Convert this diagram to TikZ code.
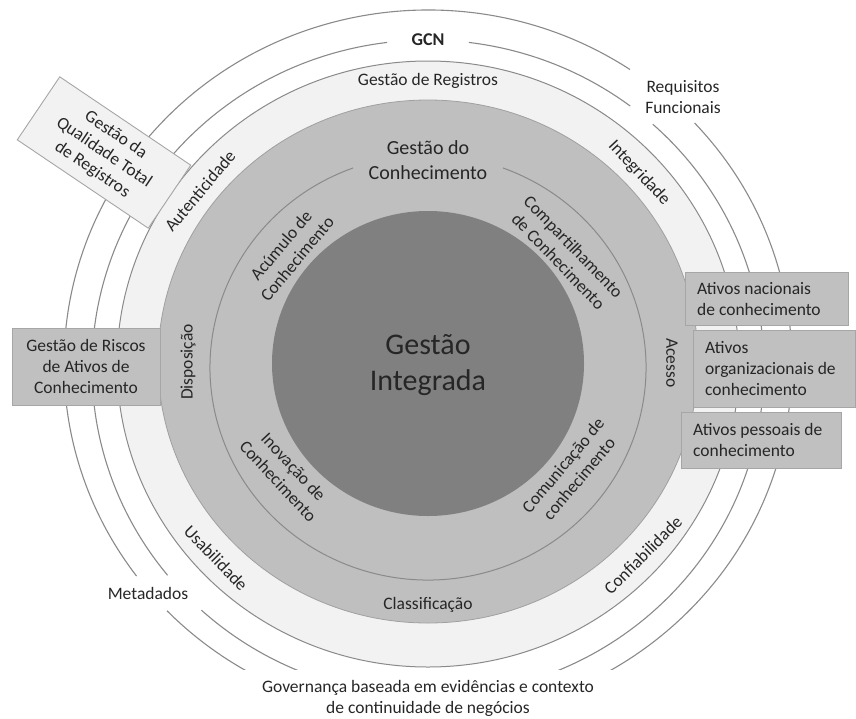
\documentclass[tikz,border=0pt]{standalone}
\usepackage{fontspec}
\setmainfont{Carlito}
\definecolor{lightfill}{HTML}{F2F2F2}
\definecolor{midfill}{HTML}{BFBFBF}
\definecolor{darkfill}{HTML}{808080}
\definecolor{linegray}{HTML}{8A8A8A}
\definecolor{midedge}{HTML}{A0A0A0}
\definecolor{boxfill}{HTML}{C0C0C0}
\definecolor{boxedge}{HTML}{A6A6A6}
\definecolor{txt}{HTML}{262626}
\begin{document}
\begin{tikzpicture}[x=1pt,y=1pt,
  ringline/.style={draw=linegray, line width=1.1pt},
  lbl/.style={inner sep=0pt, align=center, text=txt, font=\fontsize{17.5}{21}\selectfont},
  boxlbl/.style={inner sep=0pt, align=left, anchor=west, text=txt, font=\fontsize{17.5}{21}\selectfont},
  infobox/.style={draw=boxedge, line width=0.9pt},
]
\useasboundingbox (0,0) rectangle (856,-718);

% centres of the rings
\coordinate (cOuter) at (428,-364);
\coordinate (cGCN)   at (428,-368);
\coordinate (cReg)   at (428,-364);
\coordinate (cKM)    at (428,-361.5);
\coordinate (cThin)  at (428,-367.5);
\coordinate (cCore)  at (428,-363.5);

% outer open rings, cut off above the bottom caption
\begin{scope}
  \clip (0,0) rectangle (856,-669);
  \draw[ringline] (cOuter) ++(56.3:364 and 354) arc[start angle=56.3, end angle=216.8, x radius=364, y radius=354];
  \draw[ringline] (cOuter) ++(224.2:364 and 354) arc[start angle=224.2, end angle=402.9, x radius=364, y radius=354];
  \draw[ringline] (cGCN) ++(97:336 and 328) arc[start angle=97, end angle=219.2, x radius=336, y radius=328];
  \draw[ringline] (cGCN) ++(227.6:336 and 328) arc[start angle=227.6, end angle=408, x radius=336, y radius=328];
  \draw[ringline] (cGCN) ++(53:336 and 328) arc[start angle=53, end angle=83, x radius=336, y radius=328];
\end{scope}

% records management ring
\filldraw[fill=lightfill, draw=linegray, line width=1pt] (cReg) ellipse [x radius=311, y radius=303];
% knowledge management ring
\filldraw[fill=midfill, draw=midedge, line width=0.8pt] (cKM) ellipse [x radius=270, y radius=261.5];
% thin inner ring, open at the top
\draw[draw=linegray, line width=1pt] (cThin) ++(110.1:218 and 212.5) arc[start angle=110.1, end angle=429.9, x radius=218, y radius=212.5];
% core
\fill[darkfill] (cCore) ellipse [x radius=156, y radius=152.5];

% titles
\node[lbl, font=\fontsize{18}{21}\selectfont\bfseries] (gcn) at (428,-40) {GCN};
\node[lbl] (reg) at (428,-81) {Gestão de Registros};
\node[lbl, font=\fontsize{20}{24.5}\selectfont] (km) at (428,-160) {Gestão do\\Conhecimento};
\node[lbl, font=\fontsize{30}{36}\selectfont] (core) at (428,-365) {Gestão\\Integrada};

% records management labels
\node[lbl, rotate=50]  (aut) at (200,-191) {Autenticidade};
\node[lbl, rotate=-47] (int) at (639,-173) {Integridade};
\node[lbl, rotate=-90] (ace) at (672,-363) {Acesso};
\node[lbl, rotate=45]  (con) at (643,-555) {Confiabilidade};
\node[lbl]             (cla) at (428,-605) {Classificação};
\node[lbl, rotate=-46] (usa) at (216,-558) {Usabilidade};
\node[lbl, rotate=90]  (dis) at (188,-362) {Disposição};

% knowledge management labels
\node[lbl, rotate=50]  (acu) at (289,-252) {Acúmulo de\\Conhecimento};
\node[lbl, rotate=-46] (com) at (566,-254) {Compartilhamento\\de Conhecimento};
\node[lbl, rotate=-47] (ino) at (286,-474) {Inovação de\\Conhecimento};
\node[lbl, rotate=50]  (cmn) at (571,-472) {Comunicação de\\conhecimento};

% outer labels
\node[lbl] (req) at (683,-97) {Requisitos\\Funcionais};
\node[lbl] (meta) at (148,-593) {Metadados};
\node[lbl] (gov) at (428,-698) {Governança baseada em evidências e contexto\\de continuidade de negócios};

% side boxes
\node[infobox, fill=lightfill, lbl, minimum width=158pt, minimum height=76pt, rotate=-34] (qual) at (104,-152.5) {Gestão da\\Qualidade Total\\de Registros};
\filldraw[infobox, fill=boxfill] (12,-328) rectangle (160,-405);
\node[lbl] (risk) at (86,-366) {Gestão de Riscos\\de Ativos de\\Conhecimento};

\filldraw[infobox, fill=boxfill] (685,-272) rectangle (848,-325);
\node[boxlbl] (nac) at (697,-299) {Ativos nacionais\\de conhecimento};
\filldraw[infobox, fill=boxfill] (693,-330) rectangle (855.5,-407);
\node[boxlbl] (org) at (705,-369) {Ativos\\organizacionais de\\conhecimento};
\filldraw[infobox, fill=boxfill] (681,-412) rectangle (841,-468);
\node[boxlbl] (pes) at (693,-440) {Ativos pessoais de\\conhecimento};
\end{tikzpicture}
\end{document}
